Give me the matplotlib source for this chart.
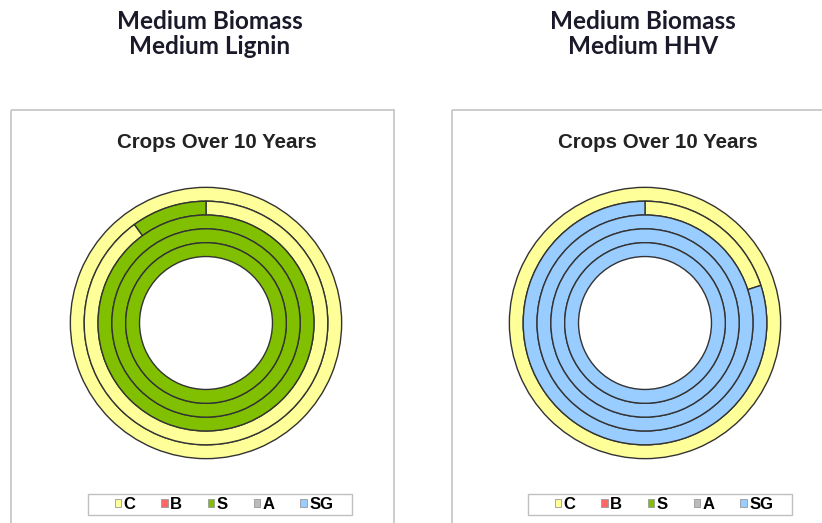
import matplotlib
matplotlib.use("Agg")
import matplotlib.pyplot as plt
from matplotlib.patches import Patch, Rectangle

W, H = 822, 523

categories = ['C', 'B', 'S', 'A', 'SG']
cat_colors = ['#FFFF99', '#FF6666', '#80C000', '#BBBBBB', '#99CCFF']

# years of each crop out of 10, one list per ring (outermost first)
lignin_ring1 = [10, 0, 0, 0, 0]
lignin_ring2 = [9, 0, 1, 0, 0]
lignin_ring3 = [0, 0, 10, 0, 0]
lignin_ring4 = [0, 0, 10, 0, 0]
lignin_ring5 = [0, 0, 10, 0, 0]

hhv_ring1 = [10, 0, 0, 0, 0]
hhv_ring2 = [2, 0, 0, 0, 8]
hhv_ring3 = [0, 0, 0, 0, 10]
hhv_ring4 = [0, 0, 0, 0, 10]
hhv_ring5 = [0, 0, 0, 0, 10]

headings = ['Medium Biomass\nMedium Lignin', 'Medium Biomass\nMedium HHV']
chart_title = 'Crops Over 10 Years'

HOLE = 0.49
RING_W = (1 - HOLE) / 5


def px_box(x0, y0, w, h):
    # pixel box (top-left origin) -> figure fraction [l, b, w, h]
    return [x0 / W, 1 - (y0 + h) / H, w / W, h / H]


def draw_donut(ax, rings):
    for i, counts in enumerate(rings):
        vals = [v for v in counts if v > 0]
        cols = [c for c, v in zip(cat_colors, counts) if v > 0]
        ax.pie(vals, radius=1 - i * RING_W, colors=cols, startangle=90,
               counterclock=False,
               wedgeprops=dict(width=RING_W, edgecolor='#333333', linewidth=1.0))
    ax.set_xlim(-1.01, 1.01)
    ax.set_ylim(-1.01, 1.01)
    ax.set_aspect('equal')
    ax.axis('off')


fig = plt.figure(figsize=(W / 100, H / 100), dpi=100)

# overlay in pixel coordinates for the panel frames and texts
bg = fig.add_axes([0, 0, 1, 1])
bg.set_xlim(0, W)
bg.set_ylim(H, 0)
bg.axis('off')

panels = [
    dict(frame_x=11, heading_x=210, title_x=217, cx=206, legend_x=88,
         rings=[lignin_ring1, lignin_ring2, lignin_ring3, lignin_ring4, lignin_ring5]),
    dict(frame_x=452, heading_x=643, title_x=658, cx=645, legend_x=528,
         rings=[hhv_ring1, hhv_ring2, hhv_ring3, hhv_ring4, hhv_ring5]),
]

R = 137
CY = 323

for heading, p in zip(headings, panels):
    bg.add_patch(Rectangle((p['frame_x'], 110), 383, 430, fill=False,
                           edgecolor='#c8c8c8', linewidth=1.3))
    bg.text(p['heading_x'], 34, heading, ha='center', va='center',
            fontsize=17.5, fontweight='bold', family='Lato', color='#1a1a2a',
            linespacing=1.12)
    bg.text(p['title_x'], 142, chart_title, ha='center', va='center',
            fontsize=14.8, fontweight='bold', family='Liberation Sans',
            color='#222222')

    ax = fig.add_axes(px_box(p['cx'] - R, CY - R, 2 * R, 2 * R))
    draw_donut(ax, p['rings'])

    # legend frame is wider than its content
    bg.add_patch(Rectangle((p['legend_x'], 494), 264, 21, facecolor='white',
                           edgecolor='#c0c0c0', linewidth=1.0))
    handles = [Patch(facecolor=c, edgecolor='#999999', linewidth=0.6)
               for c in cat_colors]
    fig.legend(handles, categories, loc='center',
               bbox_to_anchor=((p['legend_x'] + 136) / W, 1 - 504.5 / H), ncol=5,
               frameon=False, handlelength=0.38, handleheight=0.38,
               handletextpad=0.15, columnspacing=1.55, borderpad=0.12,
               prop=dict(family='Liberation Sans', weight='bold', size=12))

fig.savefig('out.png', dpi=100)
